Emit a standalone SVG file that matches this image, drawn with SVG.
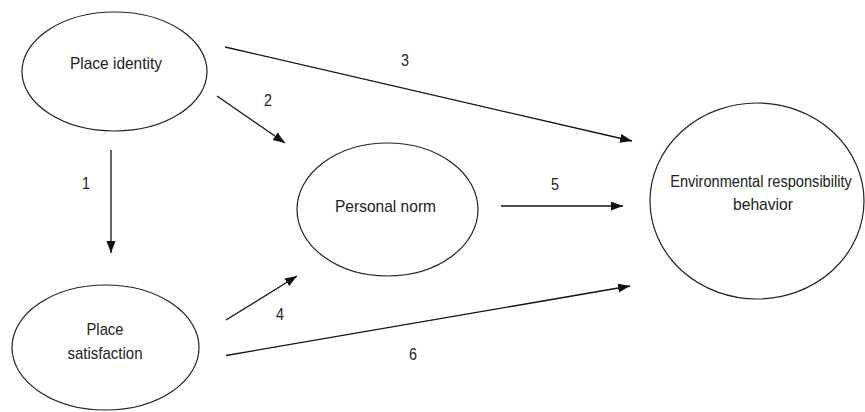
<svg xmlns="http://www.w3.org/2000/svg" width="865" height="412" viewBox="0 0 865 412">
<style>
.node ellipse{fill:#fff;stroke:#222;stroke-width:1.2}
.t{font-family:"Liberation Sans",Arial,sans-serif;font-size:17px;fill:#222;text-anchor:middle}
.lbl{font-family:"Liberation Sans",Arial,sans-serif;font-size:17px;fill:#222;text-anchor:middle}
.edge{stroke:#111;stroke-width:1.3;fill:none;marker-end:url(#ah)}
</style>
<defs>
<marker id="ah" markerUnits="userSpaceOnUse" markerWidth="13" markerHeight="10" refX="12" refY="4.5" orient="auto">
<path d="M0,0 L12,4.5 L0,9 z" fill="#111"/>
</marker>
</defs>
<rect width="865" height="412" fill="#fff"/>
<g id="place-identity" class="node">
<ellipse cx="114.5" cy="71.5" rx="92.5" ry="59.5"/>
<text class="t" x="116" y="69" textLength="92" lengthAdjust="spacingAndGlyphs">Place identity</text>
</g>
<g id="place-satisfaction" class="node">
<ellipse cx="105.5" cy="347.5" rx="93.5" ry="62.5"/>
<text class="t" x="105" y="335" textLength="37" lengthAdjust="spacingAndGlyphs">Place</text>
<text class="t" x="105" y="359" textLength="75" lengthAdjust="spacingAndGlyphs">satisfaction</text>
</g>
<g id="personal-norm" class="node">
<ellipse cx="387.5" cy="209.5" rx="90.5" ry="66.5"/>
<text class="t" x="385.5" y="212" textLength="101" lengthAdjust="spacingAndGlyphs">Personal norm</text>
</g>
<g id="env-behavior" class="node">
<ellipse cx="757" cy="201" rx="107" ry="98"/>
<text class="t" transform="translate(761,187) scale(1,1.13)" x="0" y="0" style="font-size:14.6px">Environmental responsibility</text>
<text class="t" x="763" y="210" textLength="60" lengthAdjust="spacingAndGlyphs">behavior</text>
</g>
<g id="connectors">
<line class="edge" x1="111" y1="150" x2="111" y2="253"/>
<text class="lbl" x="86" y="189" textLength="8" lengthAdjust="spacingAndGlyphs">1</text>
<line class="edge" x1="217" y1="96" x2="285" y2="143"/>
<text class="lbl" x="268" y="106" textLength="8" lengthAdjust="spacingAndGlyphs">2</text>
<line class="edge" x1="225" y1="47" x2="632" y2="141"/>
<text class="lbl" x="405" y="66" textLength="8" lengthAdjust="spacingAndGlyphs">3</text>
<line class="edge" x1="226" y1="320" x2="297" y2="276"/>
<text class="lbl" x="280" y="320" textLength="8" lengthAdjust="spacingAndGlyphs">4</text>
<line class="edge" x1="501" y1="206" x2="623" y2="206"/>
<text class="lbl" x="555" y="190" textLength="8" lengthAdjust="spacingAndGlyphs">5</text>
<line class="edge" x1="226" y1="355.5" x2="630" y2="286"/>
<text class="lbl" x="413" y="360" textLength="8" lengthAdjust="spacingAndGlyphs">6</text>
</g>
</svg>
